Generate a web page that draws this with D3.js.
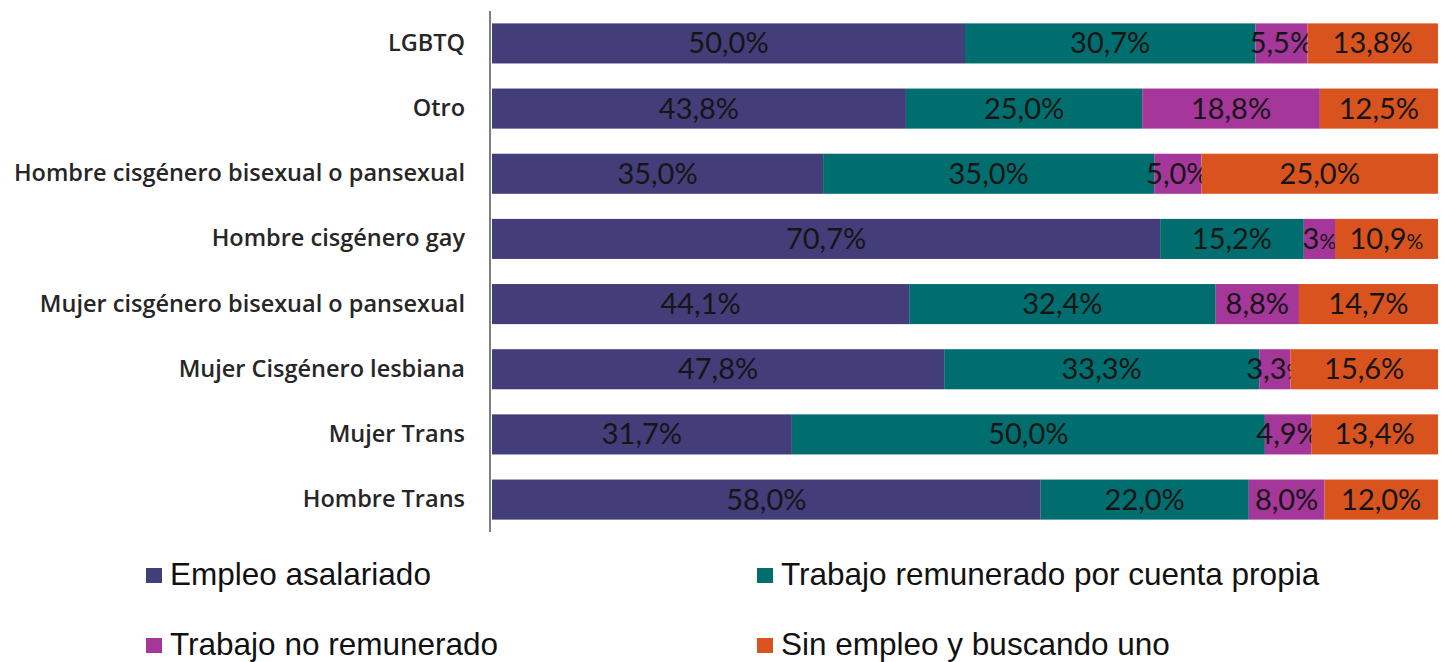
<!DOCTYPE html>
<html>
<head>
<meta charset="utf-8">
<script src="https://cdn.jsdelivr.net/npm/d3@7"></script>
<style>
  body { margin: 0; background: #fff; }
</style>
</head>
<body>
<div id="chart"></div>
<script>
// Data
var categories = ['LGBTQ', 'Otro', 'Hombre cisgénero bisexual o pansexual', 'Hombre cisgénero gay',
    'Mujer cisgénero bisexual o pansexual', 'Mujer Cisgénero lesbiana', 'Mujer Trans', 'Hombre Trans'];
var seriesNames = ['Empleo asalariado', 'Trabajo remunerado por cuenta propia', 'Trabajo no remunerado', 'Sin empleo y buscando uno'];
var asalariado = [50.0, 43.8, 35.0, 70.7, 44.1, 47.8, 31.7, 58.0];
var cuentaPropia = [30.7, 25.0, 35.0, 15.2, 32.4, 33.3, 50.0, 22.0];
var noRemunerado = [5.5, 18.8, 5.0, 3.3, 8.8, 3.3, 4.9, 8.0];
var sinEmpleo = [13.8, 12.5, 25.0, 10.9, 14.7, 15.6, 13.4, 12.0];
// label text as printed (some with a small % sign)
var labelText = [
    ['50,0%', '30,7%', '5,5%', '13,8%'],
    ['43,8%', '25,0%', '18,8%', '12,5%'],
    ['35,0%', '35,0%', '5,0%', '25,0%'],
    ['70,7%', '15,2%', '3|%', '10,9|%'],
    ['44,1%', '32,4%', '8,8%', '14,7%'],
    ['47,8%', '33,3%', '3,3|%', '15,6%'],
    ['31,7%', '50,0%', '4,9%', '13,4%'],
    ['58,0%', '22,0%', '8,0%', '12,0%']
];
var colors = ['#433d7a', '#006e6e', '#a5369a', '#d9531f'];

var W = 1445, H = 662;
var svg = d3.select('#chart').append('svg')
    .attr('width', W)
    .attr('height', H);

var rows = categories.map(function (c, i) {
    return { cat: c, v: [asalariado[i], cuentaPropia[i], noRemunerado[i], sinEmpleo[i]], t: labelText[i] };
});

// Scales
var y = d3.scaleBand()
    .domain(categories)
    .range([11, 532])
    .paddingInner(0.385)
    .paddingOuter(0.19);

var x = d3.scaleLinear()
    .domain([0, 1])
    .range([492, 1438]);

// Bars
var rowG = svg.selectAll('g.row')
    .data(rows)
    .enter()
    .append('g')
    .attr('class', 'row');

rowG.each(function (d) {
    var g = d3.select(this);
    var total = d3.sum(d.v);
    var acc = 0;
    d.v.forEach(function (v, j) {
        var x0 = x(acc / total), x1 = x((acc + v) / total);
        acc += v;
        g.append('rect')
            .attr('x', x0)
            .attr('y', y(d.cat))
            .attr('width', x1 - x0)
            .attr('height', y.bandwidth())
            .attr('fill', colors[j]);
        var parts = d.t[j].split('|');
        var txt = g.append('text')
            .attr('x', (x0 + x1) / 2)
            .attr('y', y(d.cat) + y.bandwidth() / 2 + 10)
            .attr('text-anchor', 'middle')
            .attr('font-family', 'Lato, "Open Sans", sans-serif')
            .attr('font-size', '29px')
            .attr('fill', '#151515');
        txt.append('tspan').text(parts[0]);
        if (parts.length > 1) {
            txt.append('tspan').attr('font-size', '21px').text(parts[1]);
        }
    });
});

// Axis
var axis = svg.append('g')
    .attr('transform', 'translate(490,0)')
    .call(d3.axisLeft(y).tickSize(0).tickPadding(25));
axis.select('.domain').attr('stroke', '#7f7f7f').attr('stroke-width', 2)
    .attr('d', 'M0,11V532');
axis.selectAll('text')
    .attr('font-family', '"Open Sans", sans-serif')
    .attr('font-size', '23.5px')
    .attr('font-weight', 600)
    .attr('fill', '#262626');

// Legend
var legendPos = [[146, 576], [757, 576], [146, 646], [757, 646]];
var legend = svg.selectAll('g.legend')
    .data(seriesNames)
    .enter()
    .append('g')
    .attr('class', 'legend')
    .attr('transform', function (d, i) { return 'translate(' + legendPos[i][0] + ',' + legendPos[i][1] + ')'; });
legend.append('rect')
    .attr('x', 0)
    .attr('y', -8)
    .attr('width', 16)
    .attr('height', 15)
    .attr('fill', function (d, i) { return colors[i]; });
legend.append('text')
    .attr('x', 24)
    .attr('y', 9)
    .attr('font-family', '"Liberation Sans", Arial, sans-serif')
    .attr('font-size', '31.5px')
    .attr('fill', '#111')
    .text(function (d) { return d; });
</script>
</body>
</html>
